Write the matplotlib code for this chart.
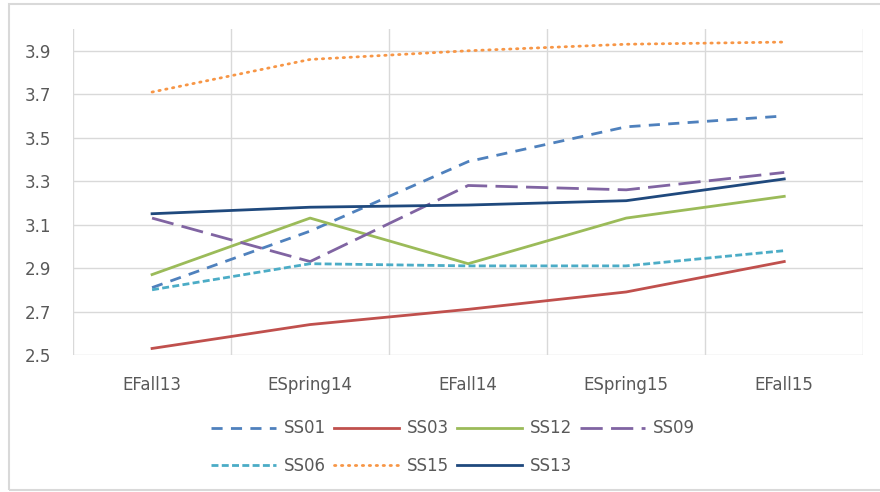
import matplotlib.pyplot as plt
from matplotlib.patches import Rectangle

# Data
terms = ['EFall13', 'ESpring14', 'EFall14', 'ESpring15', 'EFall15']
ss01 = [2.81, 3.07, 3.39, 3.55, 3.60]
ss03 = [2.53, 2.64, 2.71, 2.79, 2.93]
ss12 = [2.87, 3.13, 2.92, 3.13, 3.23]
ss09 = [3.13, 2.93, 3.28, 3.26, 3.34]
ss06 = [2.80, 2.92, 2.91, 2.91, 2.98]
ss15 = [3.71, 3.86, 3.90, 3.93, 3.94]
ss13 = [3.15, 3.18, 3.19, 3.21, 3.31]

yticks = [2.5, 2.7, 2.9, 3.1, 3.3, 3.5, 3.7, 3.9]

fig = plt.figure(figsize=(8.8, 4.92), dpi=100)
ax = fig.add_axes([0.083, 0.2785, 0.898, 0.6625])

x = range(len(terms))
lw = 2.0
h01, = ax.plot(x, ss01, color='#4F81BD', lw=lw, dashes=(4, 3), label='SS01')
h03, = ax.plot(x, ss03, color='#C0504D', lw=lw, label='SS03')
h12, = ax.plot(x, ss12, color='#9BBB59', lw=lw, label='SS12')
h09, = ax.plot(x, ss09, color='#8064A2', lw=lw, dashes=(8, 3), label='SS09')
h06, = ax.plot(x, ss06, color='#4BACC6', lw=lw, dashes=(2.5, 1.2), label='SS06')
h15, = ax.plot(x, ss15, color='#F79646', lw=lw, dashes=(0.5, 2.0),
               dash_capstyle='round', label='SS15')
h13, = ax.plot(x, ss13, color='#1F497D', lw=lw, label='SS13')

ax.set_xlim(-0.5, 4.5)
ax.set_ylim(2.5, 4.0)
ax.set_yticks(yticks)
ax.set_yticklabels([f'{v:.1f}' for v in yticks])
ax.set_xticks(list(x))
ax.set_xticklabels(terms)
ax.set_xticks([i - 0.5 for i in range(6)], minor=True)

ax.grid(True, axis='y', color='#D9D9D9', lw=1)
ax.grid(True, axis='x', which='minor', color='#D9D9D9', lw=1)
ax.set_axisbelow(True)
for s in ax.spines.values():
    s.set_visible(False)
ax.tick_params(which='both', length=0, colors='#595959', labelsize=12)
ax.tick_params(axis='x', pad=15)
ax.tick_params(axis='y', pad=16)

handles = [h01, h06, h03, h15, h12, h13, h09]
fig.legend(handles=handles, labels=[h.get_label() for h in handles],
           ncol=4, loc='center', bbox_to_anchor=(0.515, 0.0915),
           frameon=False, fontsize=12, handlelength=3.9, columnspacing=0.5,
           handletextpad=0.45, labelspacing=1.15, labelcolor='#595959',
           borderpad=0)

fig.patches.append(Rectangle((0.01, 0.005), 0.995, 0.987, transform=fig.transFigure,
                             fill=False, edgecolor='#D9D9D9', lw=1.5))

fig.savefig('out.png', dpi=100)
